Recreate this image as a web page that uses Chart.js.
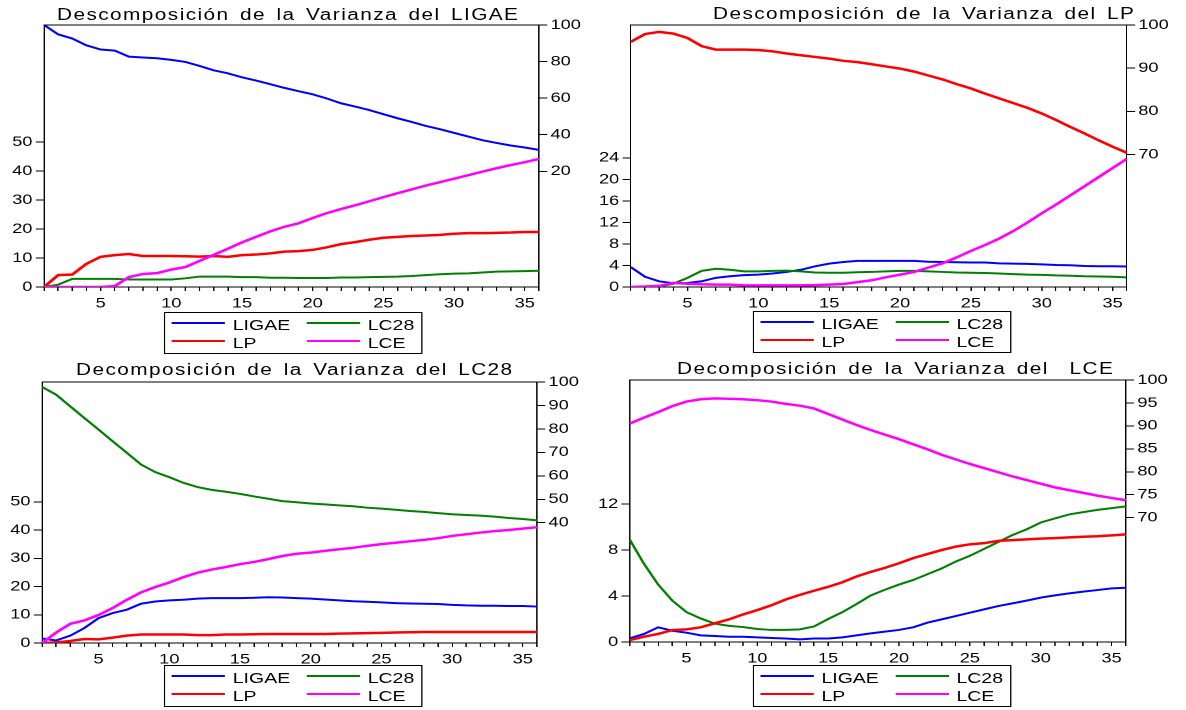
<!DOCTYPE html>
<html lang="es">
<head>
<meta charset="UTF-8">
<title>Descomposición de la Varianza</title>
<script src="https://cdn.jsdelivr.net/npm/chart.js@4.4.0/dist/chart.umd.min.js"></script>
<style>
  html, body { margin: 0; padding: 0; background: #fff; }
  body { width: 1186px; height: 710px; overflow: hidden; position: relative; }
  #page { position: absolute; left: 0; top: 0; height: 710px; transform-origin: 0 0;
          font-family: "Liberation Sans", Arial, sans-serif; color: #000; }
  .box { position: absolute; }
  .title { position: absolute; font-size: 16px; line-height: 16px; white-space: pre;
           letter-spacing: 1.1px; word-spacing: 2.5px; }
  .legend { position: absolute; border: 1px solid #000; box-sizing: border-box; }
  .key { position: absolute; height: 0; }
  .lab { position: absolute; font-size: 15px; line-height: 15px; white-space: pre; }
</style>
</head>
<body>
<div id="page"></div>
<script>
// periods of the forecast horizon
const periods = [1,2,3,4,5,6,7,8,9,10,11,12,13,14,15,16,17,18,19,20,21,22,23,24,25,26,27,28,29,30,31,32,33,34,35,36];

// Descomposicion de la varianza del LIGAE
const ligae_LIGAE = [100,94.9,92.6,88.9,86.6,86.0,82.7,82.2,81.8,80.9,79.8,77.6,75.2,73.6,71.4,69.6,67.6,65.6,63.8,62.1,59.8,57.2,55.4,53.5,51.2,49.0,47.0,44.8,43.0,41.0,39.0,37.0,35.5,34.1,33.0,31.7];
const ligae_LC28 = [0,0.8,2.8,2.8,2.8,2.8,2.6,2.6,2.6,2.6,3.0,3.6,3.6,3.6,3.4,3.4,3.2,3.2,3.1,3.1,3.1,3.3,3.3,3.4,3.5,3.6,3.8,4.1,4.4,4.6,4.7,5.0,5.3,5.4,5.5,5.6];
const ligae_LP = [0,4.1,4.3,8.0,10.4,11.0,11.4,10.7,10.7,10.7,10.6,10.5,10.7,10.4,11.0,11.2,11.6,12.2,12.4,12.8,13.7,14.8,15.5,16.3,17.0,17.3,17.6,17.8,18.0,18.4,18.6,18.6,18.7,18.8,19.0,19.0];
const ligae_LCE = [0,0,0,0,0,0.3,3.4,4.5,4.8,6.0,6.9,9.0,11.1,13.2,15.4,17.3,19.2,20.8,22.0,23.8,25.5,26.9,28.2,29.6,31.0,32.4,33.7,35.0,36.2,37.4,38.6,39.8,41.0,42.1,43.1,44.2];

// Descomposicion de la varianza del LP
const lp_LIGAE = [3.7,1.9,1.06,0.7,0.75,1.06,1.7,2.0,2.2,2.3,2.5,2.8,3.2,3.85,4.35,4.65,4.85,4.85,4.85,4.85,4.85,4.7,4.65,4.6,4.55,4.55,4.4,4.35,4.3,4.2,4.1,4.05,3.9,3.85,3.85,3.8];
const lp_LC28 = [0,0,0.1,0.6,1.7,3.0,3.4,3.2,2.9,2.9,3.0,3.05,2.9,2.7,2.65,2.65,2.75,2.8,2.9,3.0,3.0,2.9,2.8,2.7,2.65,2.6,2.5,2.4,2.3,2.25,2.15,2.1,2.0,1.95,1.9,1.8];
const lp_LP = [96.1,97.9,98.4,98.0,97.0,95.1,94.3,94.3,94.3,94.2,93.9,93.4,93.0,92.6,92.2,91.7,91.4,90.9,90.4,89.9,89.2,88.3,87.4,86.3,85.3,84.1,83.0,81.9,80.8,79.5,78.0,76.4,74.9,73.3,71.8,70.4];
const lp_LCE = [0,0.1,0.2,0.75,0.6,0.5,0.45,0.45,0.3,0.3,0.3,0.3,0.3,0.35,0.45,0.55,0.9,1.25,1.8,2.3,2.8,3.6,4.4,5.5,6.7,7.8,9.0,10.4,12.0,13.7,15.3,17.0,18.7,20.4,22.1,23.8];

// Decomposicion de la varianza del LC28
const lc28_LIGAE = [1.6,0.9,2.6,5.3,8.8,10.6,11.8,13.9,14.7,15.1,15.3,15.7,15.9,15.9,15.9,16.0,16.2,16.1,15.9,15.7,15.4,15.1,14.8,14.6,14.4,14.1,14.0,13.9,13.8,13.5,13.3,13.2,13.2,13.1,13.1,12.9];
const lc28_LC28 = [97.9,94.6,89.6,84.6,79.7,74.7,69.8,64.8,61.6,59.4,57.0,55.2,54.0,53.2,52.3,51.2,50.2,49.2,48.7,48.2,47.8,47.4,47.0,46.4,46.0,45.5,45.0,44.6,44.1,43.6,43.3,43.0,42.6,42.0,41.6,41.0];
const lc28_LP = [0,0.2,0.7,1.4,1.3,1.9,2.6,3.0,3.0,3.0,3.0,2.8,2.8,3.0,3.0,3.1,3.2,3.2,3.2,3.2,3.2,3.3,3.4,3.5,3.6,3.7,3.8,3.9,3.9,3.9,3.9,3.9,3.9,3.9,3.9,3.9];
const lc28_LCE = [0,3.7,6.8,8.0,9.9,12.4,15.3,17.9,19.8,21.4,23.3,24.9,26.0,26.9,27.9,28.7,29.7,30.8,31.6,32.0,32.6,33.2,33.7,34.4,35.0,35.5,36.0,36.5,37.1,37.9,38.5,39.1,39.6,40.0,40.5,41.0];

// Decomposicion de la varianza del LCE
const lce_LIGAE = [0.32,0.7,1.28,0.98,0.81,0.58,0.52,0.46,0.46,0.4,0.35,0.3,0.23,0.3,0.3,0.4,0.58,0.75,0.9,1.05,1.28,1.68,1.97,2.26,2.55,2.84,3.13,3.36,3.6,3.86,4.06,4.23,4.38,4.52,4.67,4.72];
const lce_LC28 = [8.9,6.8,5.0,3.6,2.6,2.05,1.6,1.4,1.3,1.13,1.05,1.05,1.1,1.35,2.0,2.6,3.3,4.05,4.55,5.0,5.4,5.9,6.4,7.0,7.5,8.1,8.7,9.3,9.8,10.4,10.75,11.1,11.3,11.5,11.65,11.8];
const lce_LP = [0.17,0.46,0.7,1.04,1.1,1.28,1.63,1.97,2.4,2.78,3.2,3.7,4.1,4.46,4.8,5.2,5.7,6.1,6.45,6.85,7.3,7.65,8.0,8.3,8.5,8.6,8.8,8.87,8.93,9.0,9.04,9.1,9.16,9.2,9.28,9.37];
const lce_LCE = [90.5,91.8,93.0,94.3,95.3,95.8,96.0,95.9,95.8,95.6,95.3,94.8,94.4,93.8,92.6,91.4,90.2,89.1,88.1,87.1,86.0,84.9,83.7,82.7,81.7,80.8,79.9,79.0,78.2,77.4,76.6,76.0,75.4,74.8,74.3,73.8];

// tick labels shown on each axis
const ticksLeft1 = [0,10,20,30,40,50], ticksRight1 = [20,40,60,80,100];
const ticksLeft2 = [0,4,8,12,16,20,24], ticksRight2 = [70,80,90,100];
const ticksLeft3 = [0,10,20,30,40,50], ticksRight3 = [40,50,60,70,80,90,100];
const ticksLeft4 = [0,4,8,12], ticksRight4 = [70,75,80,85,90,95,100];

const names = ['LIGAE', 'LC28', 'LP', 'LCE'];
const colors = { LIGAE: '#0000ff', LC28: '#008000', LP: '#ff0000', LCE: '#ff00ff' };
const widths = { LIGAE: 2, LC28: 2, LP: 2.5, LCE: 2.5 };

// the original EViews picture is stretched sideways, so is this page
const S = 1.3;
const page = document.getElementById('page');
page.style.width = (1186 / S) + 'px';
page.style.transform = 'scaleX(' + S + ')';

function place(el, x, y, w, h) {
  el.style.left = (x / S) + 'px';
  el.style.top = y + 'px';
  if (w != null) el.style.width = (w / S) + 'px';
  if (h != null) el.style.height = h + 'px';
  page.appendChild(el);
}

const panels = [
  { title: 'Descomposición de la Varianza del LIGAE', tx: 57, tb: 20.7,
    plot: [44, 25, 539, 287], cx: [0, 593], legend: [164, 312],
    left: [0, 90.45, ticksLeft1], right: [-43.3, 100, ticksRight1], onRight: 'LIGAE',
    series: { LIGAE: ligae_LIGAE, LC28: ligae_LC28, LP: ligae_LP, LCE: ligae_LCE } },
  { title: 'Descomposición de la Varianza del LP', tx: 713, tb: 19.3,
    plot: [631, 25, 1127, 287], cx: [593, 1186], legend: [752.7, 311],
    left: [0, 48.7, ticksLeft2], right: [39.3, 100, ticksRight2], onRight: 'LP',
    series: { LIGAE: lp_LIGAE, LC28: lp_LC28, LP: lp_LP, LCE: lp_LCE } },
  { title: 'Decomposición de la Varianza del LC28', tx: 76, tb: 376,
    plot: [42, 382, 537, 643], cx: [0, 593], legend: [164, 665],
    left: [0, 92.4, ticksLeft3], right: [-11.3, 100, ticksRight3], onRight: 'LC28',
    series: { LIGAE: lc28_LIGAE, LC28: lc28_LC28, LP: lc28_LP, LCE: lc28_LCE } },
  { title: 'Decomposición de la Varianza del  LCE', tx: 677, tb: 375,
    plot: [630, 380, 1126, 642], cx: [593, 1186], legend: [752.7, 665],
    left: [0, 22.8, ticksLeft4], right: [42.9, 100, ticksRight4], onRight: 'LCE',
    series: { LIGAE: lce_LIGAE, LC28: lce_LC28, LP: lce_LP, LCE: lce_LCE } }
];

Chart.defaults.font.family = '"Liberation Sans", Arial, sans-serif';
Chart.defaults.font.size = 14;
Chart.defaults.color = '#000';

// top edge of the plot box
const frame = {
  id: 'frame',
  afterDraw(chart) {
    const a = chart.chartArea, ctx = chart.ctx;
    ctx.save();
    ctx.strokeStyle = '#000';
    ctx.lineWidth = 1;
    ctx.beginPath();
    ctx.moveTo(a.left, a.top);
    ctx.lineTo(a.right, a.top);
    ctx.stroke();
    ctx.restore();
  }
};

function yAxis(pos, range, width) {
  return {
    position: pos, min: range[0], max: range[1],
    afterBuildTicks: s => { s.ticks = range[2].map(v => ({ value: v })); },
    afterFit: s => { s.width = width; },
    grid: { drawOnChartArea: false, drawTicks: true, tickLength: 6.4, color: '#000' },
    border: { display: true, color: '#000' },
    ticks: { padding: 2.5, color: '#000' }
  };
}

panels.forEach(p => {
  const [pl, pt, pr, pb] = p.plot;
  const wrap = document.createElement('div');
  wrap.className = 'box';
  place(wrap, p.cx[0], pt - 12, p.cx[1] - p.cx[0], pb - pt + 38);
  const cv = document.createElement('canvas');
  wrap.appendChild(cv);

  new Chart(cv, {
    type: 'line',
    data: {
      labels: periods,
      datasets: names.map(n => ({
        label: n,
        data: p.series[n],
        yAxisID: n === p.onRight ? 'y1' : 'y',
        borderColor: colors[n],
        borderWidth: widths[n],
        pointRadius: 0,
        tension: 0,
        fill: false
      })).reverse()
    },
    options: {
      responsive: true,
      maintainAspectRatio: false,
      animation: false,
      devicePixelRatio: 2,
      events: [],
      layout: { padding: { top: 12, left: 0, right: 0, bottom: 0 } },
      plugins: { legend: { display: false }, tooltip: { enabled: false } },
      scales: {
        x: {
          type: 'category', offset: false,
          afterFit: s => { s.height = 26; },
          grid: { drawOnChartArea: false, drawTicks: true, tickLength: 4, color: '#000' },
          border: { display: true, color: '#000' },
          ticks: {
            autoSkip: false, maxRotation: 0, minRotation: 0, padding: 4, color: '#000',
            callback: (v, i) => (periods[i] % 5 === 0 ? String(periods[i]) : '')
          }
        },
        y: yAxis('left', p.left, (pl - p.cx[0]) / S),
        y1: yAxis('right', p.right, (p.cx[1] - pr) / S)
      }
    },
    plugins: [frame]
  });

  const t = document.createElement('div');
  t.className = 'title';
  t.textContent = p.title;
  place(t, p.tx, p.tb - 13.55);

  const [bx, by] = p.legend;
  const lg = document.createElement('div');
  lg.className = 'legend';
  place(lg, bx, by, 259, 41.5);
  [['LIGAE', 'LC28'], ['LP', 'LCE']].forEach((row, r) => {
    const ly = by + (r === 0 ? 11.3 : 29.5);
    const base = by + (r === 0 ? 17.3 : 35.5);
    row.forEach((n, c) => {
      const x0 = bx + (c === 0 ? 7.7 : 142.7);
      const k = document.createElement('div');
      k.className = 'key';
      k.style.borderTop = widths[n] + 'px solid ' + colors[n];
      place(k, x0, ly - widths[n] / 2, 53.3);
      const l = document.createElement('div');
      l.className = 'lab';
      l.textContent = n;
      place(l, x0 + 61, base - 12.7);
    });
  });
});
</script>
</body>
</html>
